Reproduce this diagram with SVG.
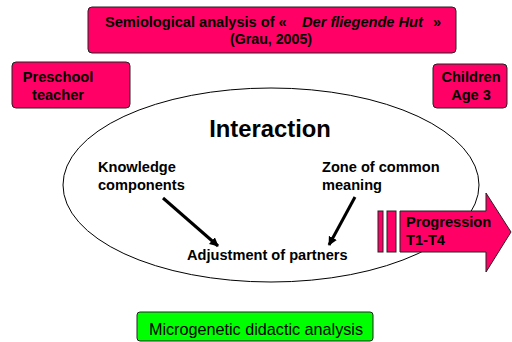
<svg xmlns="http://www.w3.org/2000/svg" width="512" height="342" viewBox="0 0 512 342">
<defs>
<style>
.pink{fill:#FF0066;stroke:#222;stroke-width:1}
.t{font-family:"Liberation Sans",Arial,sans-serif;font-weight:bold;font-size:14.6px;fill:#000}
.conn{stroke:#000;stroke-width:3;fill:none}
</style>
<marker id="ah" viewBox="0 0 10 10" refX="9" refY="5" markerWidth="3" markerHeight="3" orient="auto" markerUnits="strokeWidth">
<path d="M0,0 L10,5 L0,10 z" fill="#000"/>
</marker>
</defs>
<rect width="512" height="342" fill="#fff"/>
<g id="interaction">
<ellipse cx="271" cy="185" rx="208" ry="97" fill="#fff" stroke="#000" stroke-width="1"/>
<text class="t" x="270" y="137" text-anchor="middle" style="font-size:23.8px">Interaction</text>
</g>
<g id="title">
<rect class="pink" x="88" y="7" width="368" height="46" rx="4"/>
<text class="t" x="105" y="27">Semiological analysis of «<tspan x="302" font-style="italic">Der fliegende Hut</tspan><tspan x="433">»</tspan></text>
<text class="t" x="271" y="44" text-anchor="middle" style="font-size:14.2px">(Grau, 2005)</text>
</g>
<g id="preschool">
<rect class="pink" x="12" y="62" width="118" height="46" rx="4"/>
<text class="t" x="58" y="82" text-anchor="middle">Preschool</text>
<text class="t" x="58" y="100" text-anchor="middle">teacher</text>
</g>
<g id="children">
<rect class="pink" x="433" y="64" width="74" height="44" rx="4"/>
<text class="t" x="471" y="82" text-anchor="middle">Children</text>
<text class="t" x="471" y="100" text-anchor="middle">Age 3</text>
</g>
<g id="knowledge">
<text class="t" x="98" y="172">Knowledge</text>
<text class="t" x="98" y="190">components</text>
</g>
<g id="zone">
<text class="t" x="322" y="172">Zone of common</text>
<text class="t" x="322" y="190">meaning</text>
</g>
<g id="adjustment">
<text class="t" x="187" y="260">Adjustment of partners</text>
</g>
<g id="connectors">
<line class="conn" x1="163" y1="198" x2="218" y2="246" marker-end="url(#ah)"/>
<line class="conn" x1="355" y1="197" x2="329" y2="245" marker-end="url(#ah)"/>
</g>
<g id="progression">
<rect class="pink" x="378" y="211" width="5" height="41"/>
<rect class="pink" x="387" y="211" width="9" height="41"/>
<path class="pink" d="M400,211 L486,211 L486,193 L511,232 L486,272 L486,252 L400,252 Z"/>
<text class="t" x="406" y="227">Progression</text>
<text class="t" x="406" y="245">T1-T4</text>
</g>
<g id="microgenetic">
<rect x="137" y="312" width="236" height="29" rx="3" fill="#00FF00" stroke="#222" stroke-width="1"/>
<text x="256" y="335" text-anchor="middle" font-family="Liberation Sans, Arial, sans-serif" font-size="16.2" fill="#000">Microgenetic didactic analysis</text>
</g>
</svg>
